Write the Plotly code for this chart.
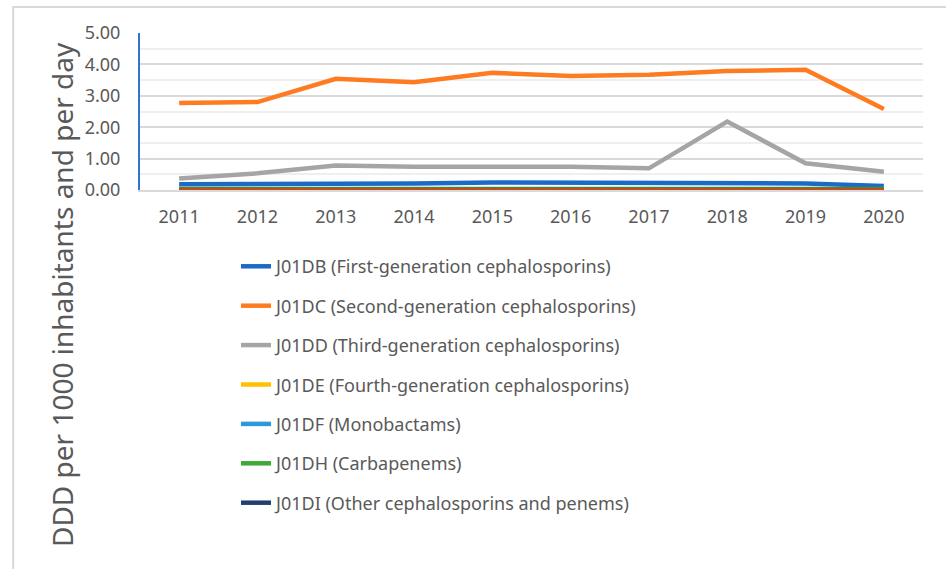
import plotly.graph_objects as go

years = ["2011", "2012", "2013", "2014", "2015", "2016", "2017", "2018", "2019", "2020"]

j01db = [0.18, 0.18, 0.20, 0.21, 0.24, 0.23, 0.21, 0.21, 0.21, 0.13]
j01dc = [2.77, 2.80, 3.54, 3.43, 3.73, 3.63, 3.67, 3.79, 3.83, 2.58]
j01dd = [0.37, 0.53, 0.78, 0.74, 0.74, 0.74, 0.69, 2.18, 0.85, 0.58]
j01de = [0.02, 0.02, 0.02, 0.02, 0.03, 0.03, 0.02, 0.02, 0.02, 0.02]
j01df = [0.01, 0.01, 0.01, 0.01, 0.01, 0.01, 0.01, 0.01, 0.01, 0.01]
j01dh = [0.03, 0.03, 0.03, 0.04, 0.05, 0.05, 0.04, 0.03, 0.03, 0.03]
j01di = [0.00, 0.00, 0.00, 0.00, 0.00, 0.00, 0.00, 0.00, 0.00, 0.00]
# unlabelled series sitting on the zero line in the original
other = [0.00, 0.00, 0.00, 0.00, 0.00, 0.00, 0.00, 0.00, 0.00, 0.00]

series = [
    ("J01DB (First-generation cephalosporins)", j01db, "#1B6BC6"),
    ("J01DC (Second-generation cephalosporins)", j01dc, "#FF7B22"),
    ("J01DD (Third-generation cephalosporins)", j01dd, "#A5A5A5"),
    ("J01DE (Fourth-generation cephalosporins)", j01de, "#FFC000"),
    ("J01DF (Monobactams)", j01df, "#2A9AD8"),
    ("J01DH (Carbapenems)", j01dh, "#3DAA36"),
    ("J01DI (Other cephalosporins and penems)", j01di, "#1F3E73"),
]

TEXT = "#595959"
FONT = "Noto Sans"

fig = go.Figure()
for i, (name, vals, color) in enumerate(series):
    fig.add_trace(
        go.Scatter(
            x=years,
            y=vals,
            mode="lines",
            name=name,
            legendgroup=f"g{i}",
            line=dict(color=color, width=4.5),
        )
    )
fig.add_trace(
    go.Scatter(
        x=years,
        y=other,
        mode="lines",
        showlegend=False,
        hoverinfo="skip",
        line=dict(color="#C0501A", width=4.5),
    )
)

fig.update_layout(
    width=946,
    height=569,
    paper_bgcolor="white",
    plot_bgcolor="white",
    margin=dict(l=140, r=23, t=33, b=379),
    font=dict(family=FONT, color=TEXT, size=18),
    showlegend=True,
    legend=dict(
        x=0.1226,
        y=-0.37,
        xanchor="left",
        yanchor="top",
        font=dict(size=18, color=TEXT),
        tracegroupgap=13,
        bgcolor="rgba(0,0,0,0)",
    ),
    shapes=[
        dict(
            type="rect",
            xref="paper",
            yref="paper",
            x0=-0.162,
            x1=1.2,
            y0=-3.0,
            y1=1.166,
            line=dict(color="#D9D9D9", width=2),
            layer="below",
        )
    ],
    annotations=[
        dict(
            text="DDD per 1000 inhabitants and per day",
            xref="paper",
            yref="paper",
            x=-0.0996,
            y=-0.669,
            textangle=-90,
            showarrow=False,
            font=dict(size=28, color=TEXT),
            xanchor="center",
            yanchor="middle",
        )
    ],
)

fig.update_xaxes(
    type="category",
    range=[-0.5, 9.5],
    showgrid=False,
    showline=True,
    linecolor="#D9D9D9",
    linewidth=1.5,
    ticks="",
    ticklabelstandoff=10,
    tickfont=dict(size=18, color=TEXT),
)
fig.update_yaxes(
    range=[0, 5],
    dtick=1,
    tickformat=".2f",
    showgrid=True,
    gridcolor="#D9D9D9",
    gridwidth=1.5,
    minor=dict(dtick=0.5, showgrid=True, gridcolor="#EFEFEF", gridwidth=1.5),
    showline=True,
    linecolor="#2F75D1",
    linewidth=2,
    zeroline=False,
    ticks="",
    ticklabelstandoff=14,
    tickfont=dict(size=18, color=TEXT),
)

# drop the page's default body margin so the figure sits at the window origin
fig.write_html(
    "out.html",
    config={"displayModeBar": False},
    post_script="document.body.style.margin='0';",
)
